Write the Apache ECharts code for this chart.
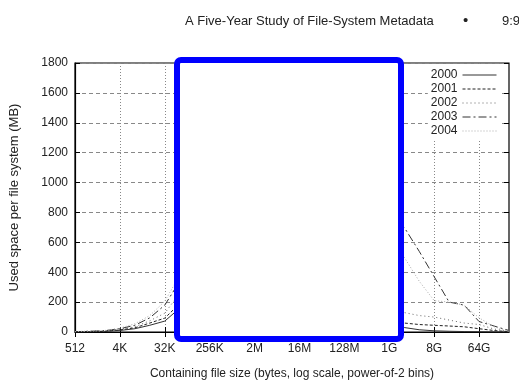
<!DOCTYPE html>
<html>
<head>
<meta charset="utf-8">
<script src="https://cdn.jsdelivr.net/npm/echarts@6/dist/echarts.min.js"></script>
<style>
  html, body { margin: 0; padding: 0; background: #fff; }
  #chart { width: 519px; height: 385px; }
</style>
</head>
<body>
<div id="chart"></div>
<script>
// power-of-2 bins, 2^9 .. 2^38
const binLabels = ['512', '1K', '2K', '4K', '8K', '16K', '32K', '64K', '128K', '256K',
  '512K', '1M', '2M', '4M', '8M', '16M', '32M', '64M', '128M', '256M',
  '512M', '1G', '2G', '4G', '8G', '16G', '32G', '64G', '128G', '256G'];

const years = ['2000', '2001', '2002', '2003', '2004'];

// used space (MB) per bin; middle bins are hidden behind the box, estimated
const used2000 = [1, 2, 4, 10, 22, 45, 73, 160, 220, 260, 290, 300, 290, 280, 260, 250, 230, 200, 160, 120, 80, 50, 30, 15, 8, 5, 3, 2, 1, 0];
const used2001 = [1, 3, 5, 14, 28, 60, 93, 190, 270, 330, 370, 390, 380, 370, 360, 340, 320, 280, 230, 170, 120, 80, 60, 50, 45, 40, 35, 22, 10, 2];
const used2002 = [2, 4, 7, 18, 35, 75, 126, 260, 360, 440, 500, 530, 520, 510, 500, 490, 470, 430, 360, 280, 200, 150, 130, 110, 100, 80, 60, 50, 20, 3];
const used2003 = [2, 5, 9, 22, 45, 95, 180, 340, 460, 560, 640, 690, 700, 720, 760, 820, 900, 950, 960, 920, 850, 780, 700, 540, 370, 200, 180, 70, 40, 10];
const used2004 = [3, 6, 10, 26, 55, 110, 206, 380, 520, 640, 740, 800, 820, 850, 900, 980, 1080, 1150, 1100, 950, 760, 620, 500, 340, 210, 200, 180, 95, 35, 5];

const seriesData = [used2000, used2001, used2002, used2003, used2004];
const lineColors = ['#333', '#222', '#666', '#333', '#aaa'];
const lineDashes = ['solid', [3, 2], [1, 3], [8, 3, 2, 3], [1, 2]];

const chart = echarts.init(document.getElementById('chart'));

const font = 'Liberation Sans, Arial, sans-serif';

chart.setOption({
  animation: false,
  backgroundColor: '#fff',
  textStyle: { fontFamily: font },
  grid: {
    left: 68, right: 10, top: 63, bottom: 51,
    show: true, borderColor: '#000', borderWidth: 1.2
  },
  legend: {
    data: years,
    orient: 'vertical',
    align: 'right',
    right: 17,
    top: 66,
    padding: [3, 5, 3, 3],
    itemGap: 2,
    itemWidth: 34,
    itemHeight: 12,
    itemStyle: { opacity: 0 },
    lineStyle: { width: 1 },
    backgroundColor: '#fff',
    textStyle: { fontSize: 12, color: '#222', fontFamily: font }
  },
  xAxis: [{
    type: 'category',
    data: binLabels,
    boundaryGap: false,
    name: 'Containing file size (bytes, log scale, power-of-2 bins)',
    nameLocation: 'middle',
    nameGap: 36,
    nameTextStyle: { fontSize: 12, color: '#222' },
    axisLine: { lineStyle: { color: '#000', width: 1.2 } },
    axisTick: { inside: true, length: 5, interval: 2, lineStyle: { color: '#000' } },
    axisLabel: { interval: 2, fontSize: 12, color: '#222', margin: 11 },
    splitLine: { show: true, interval: 2, lineStyle: { color: '#888', type: [1, 2] } }
  }, {
    type: 'category',
    data: binLabels,
    boundaryGap: false,
    position: 'top',
    axisLine: { show: false },
    axisTick: { inside: true, length: 5, interval: 2, lineStyle: { color: '#000' } },
    axisLabel: { show: false },
    splitLine: { show: false }
  }],
  yAxis: [{
    type: 'value',
    min: 0, max: 1800, interval: 200,
    name: 'Used space per file system (MB)',
    nameLocation: 'middle',
    nameGap: 54,
    nameTextStyle: { fontSize: 13, color: '#222' },
    axisLine: { show: true, lineStyle: { color: '#000', width: 1.2 } },
    axisTick: { show: true, inside: true, length: 5, lineStyle: { color: '#000' } },
    axisLabel: { fontSize: 12, color: '#222', margin: 7, formatter: v => String(v) },
    splitLine: { show: true, lineStyle: { color: '#888', type: [4, 3] } }
  }, {
    type: 'value',
    min: 0, max: 1800, interval: 200,
    position: 'right',
    axisLine: { show: false },
    axisTick: { show: true, inside: true, length: 5, lineStyle: { color: '#000' } },
    axisLabel: { show: false },
    splitLine: { show: false }
  }],
  series: years.map((y, i) => ({
    name: y,
    type: 'line',
    data: seriesData[i],
    symbol: 'none',
    lineStyle: { color: lineColors[i], width: 1, type: lineDashes[i] },
    itemStyle: { color: lineColors[i] }
  })),
  graphic: [{
    type: 'text',
    left: 185, top: 15,
    style: { text: 'A Five-Year Study of File-System Metadata', font: '13px ' + font, fill: '#222' }
  }, {
    type: 'text',
    left: 463, top: 13,
    style: { text: '•', font: '15px ' + font, fill: '#222' }
  }, {
    type: 'text',
    left: 502, top: 15,
    style: { text: '9:9', font: '13px ' + font, fill: '#222' }
  }, {
    type: 'rect',
    z: 100,
    shape: { x: 177, y: 60, width: 224, height: 279, r: 4 },
    style: { fill: '#fff', stroke: '#0000ff', lineWidth: 6 }
  }]
});
</script>
</body>
</html>
